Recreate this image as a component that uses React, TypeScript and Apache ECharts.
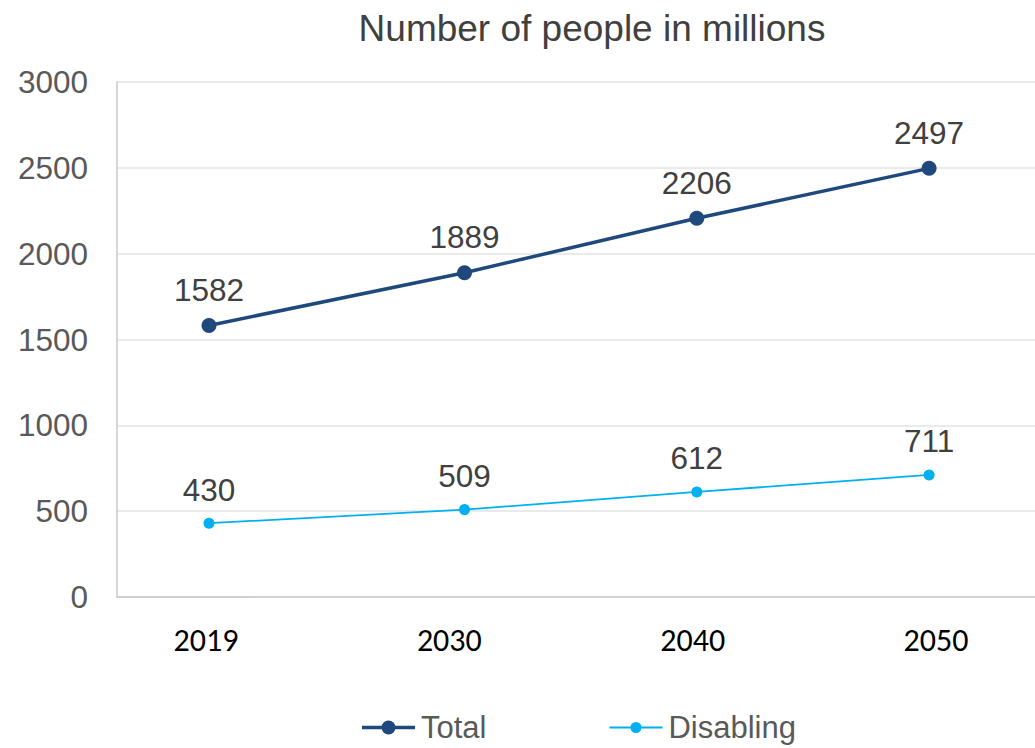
import React, { useEffect, useRef } from "react";
import * as echarts from "echarts";

const years = [2019, 2030, 2040, 2050];
const yearLabels = ["2019", "2030", "2040", "2050"];
const totalValues = [1582, 1889, 2206, 2497];
const disablingValues = [430, 509, 612, 711];
const titleText = "Number of people in millions";

const totalIcon =
  "path://M0 5.25 H53 V8.75 H0 Z M19.5 7 A7 7 0 1 1 33.5 7 A7 7 0 1 1 19.5 7 Z";
const disablingIcon =
  "path://M0 6.1 H53 V7.9 H0 Z M21 7 A5.5 5.5 0 1 1 32 7 A5.5 5.5 0 1 1 21 7 Z";

export default function App() {
  const ref = useRef<HTMLDivElement>(null);
  useEffect(() => {
    if (!ref.current) return;
    const chart = echarts.init(ref.current, null, { renderer: "svg" });
    const font = "Liberation Sans, Arial, sans-serif";
    const mk = (vals: number[]) => years.map((y, i) => [y, vals[i]]);
    chart.setOption({
      animation: false,
      backgroundColor: "#ffffff",
      title: {
        text: titleText,
        left: 587,
        textAlign: "center",
        top: 5,
        textStyle: { fontFamily: font, fontSize: 37, fontWeight: "normal", color: "#404040" },
      },
      legend: {
        left: 357,
        top: 707,
        itemWidth: 53,
        itemHeight: 14,
        itemGap: 123,
        itemStyle: { borderWidth: 0 },
        textStyle: { fontFamily: font, fontSize: 31, color: "#595959", padding: [0, 0, 0, 1] },
        data: [
          { name: "Total", icon: totalIcon },
          { name: "Disabling", icon: disablingIcon },
        ],
      },
      grid: [
        { left: 117, right: 0, top: 82, bottom: 151 },
        { left: 206, right: 99, top: 82, bottom: 151 },
      ],
      xAxis: [
        {
          type: "value",
          gridIndex: 0,
          min: 2015.04,
          max: 2054.56,
          axisLine: { show: true, onZero: false, lineStyle: { color: "#c8c8c8", width: 1.5 } },
          axisTick: { show: false },
          axisLabel: { show: false },
          splitLine: { show: false },
        },
        {
          type: "category",
          gridIndex: 1,
          boundaryGap: false,
          data: yearLabels,
          axisLine: { show: false },
          axisTick: { show: false },
          axisLabel: {
            margin: 27,
            fontFamily: "Liberation Sans Narrow, Carlito, Calibri, sans-serif",
            fontSize: 32,
            color: "#000000",
          },
          splitLine: { show: false },
        },
      ],
      yAxis: [
        {
          type: "value",
          gridIndex: 0,
          min: 0,
          max: 3000,
          interval: 500,
          axisLine: { show: true, lineStyle: { color: "#c8c8c8", width: 1.5 } },
          axisTick: { show: false },
          axisLabel: {
            margin: 29,
            fontFamily: font,
            fontSize: 31.5,
            color: "#595959",
            formatter: (v: number) => String(v),
          },
          splitLine: { show: true, lineStyle: { color: "#e3e3e3", width: 1.5 } },
        },
        {
          type: "value",
          gridIndex: 1,
          show: false,
          min: 0,
          max: 3000,
        },
      ],
      series: [
        {
          name: "Total",
          type: "line",
          xAxisIndex: 0,
          yAxisIndex: 0,
          data: mk(totalValues),
          symbol: "circle",
          symbolSize: 15,
          color: "#1f497d",
          lineStyle: { color: "#1f497d", width: 3.5 },
          itemStyle: { color: "#1f497d" },
          label: {
            show: true,
            position: "top",
            distance: 12,
            fontFamily: font,
            fontSize: 31.5,
            color: "#404040",
            formatter: (p: any) => String(p.value[1]),
          },
        },
        {
          name: "Disabling",
          type: "line",
          xAxisIndex: 0,
          yAxisIndex: 0,
          data: mk(disablingValues),
          symbol: "circle",
          symbolSize: 11,
          color: "#00b0f0",
          lineStyle: { color: "#00b0f0", width: 1.8 },
          itemStyle: { color: "#00b0f0" },
          label: {
            show: true,
            position: "top",
            distance: 12,
            fontFamily: font,
            fontSize: 31.5,
            color: "#404040",
            formatter: (p: any) => String(p.value[1]),
          },
        },
      ],
    });
    return () => chart.dispose();
  }, []);
  return <div ref={ref} style={{ width: 1035, height: 748, position: "absolute", left: 0, top: 0 }} />;
}
